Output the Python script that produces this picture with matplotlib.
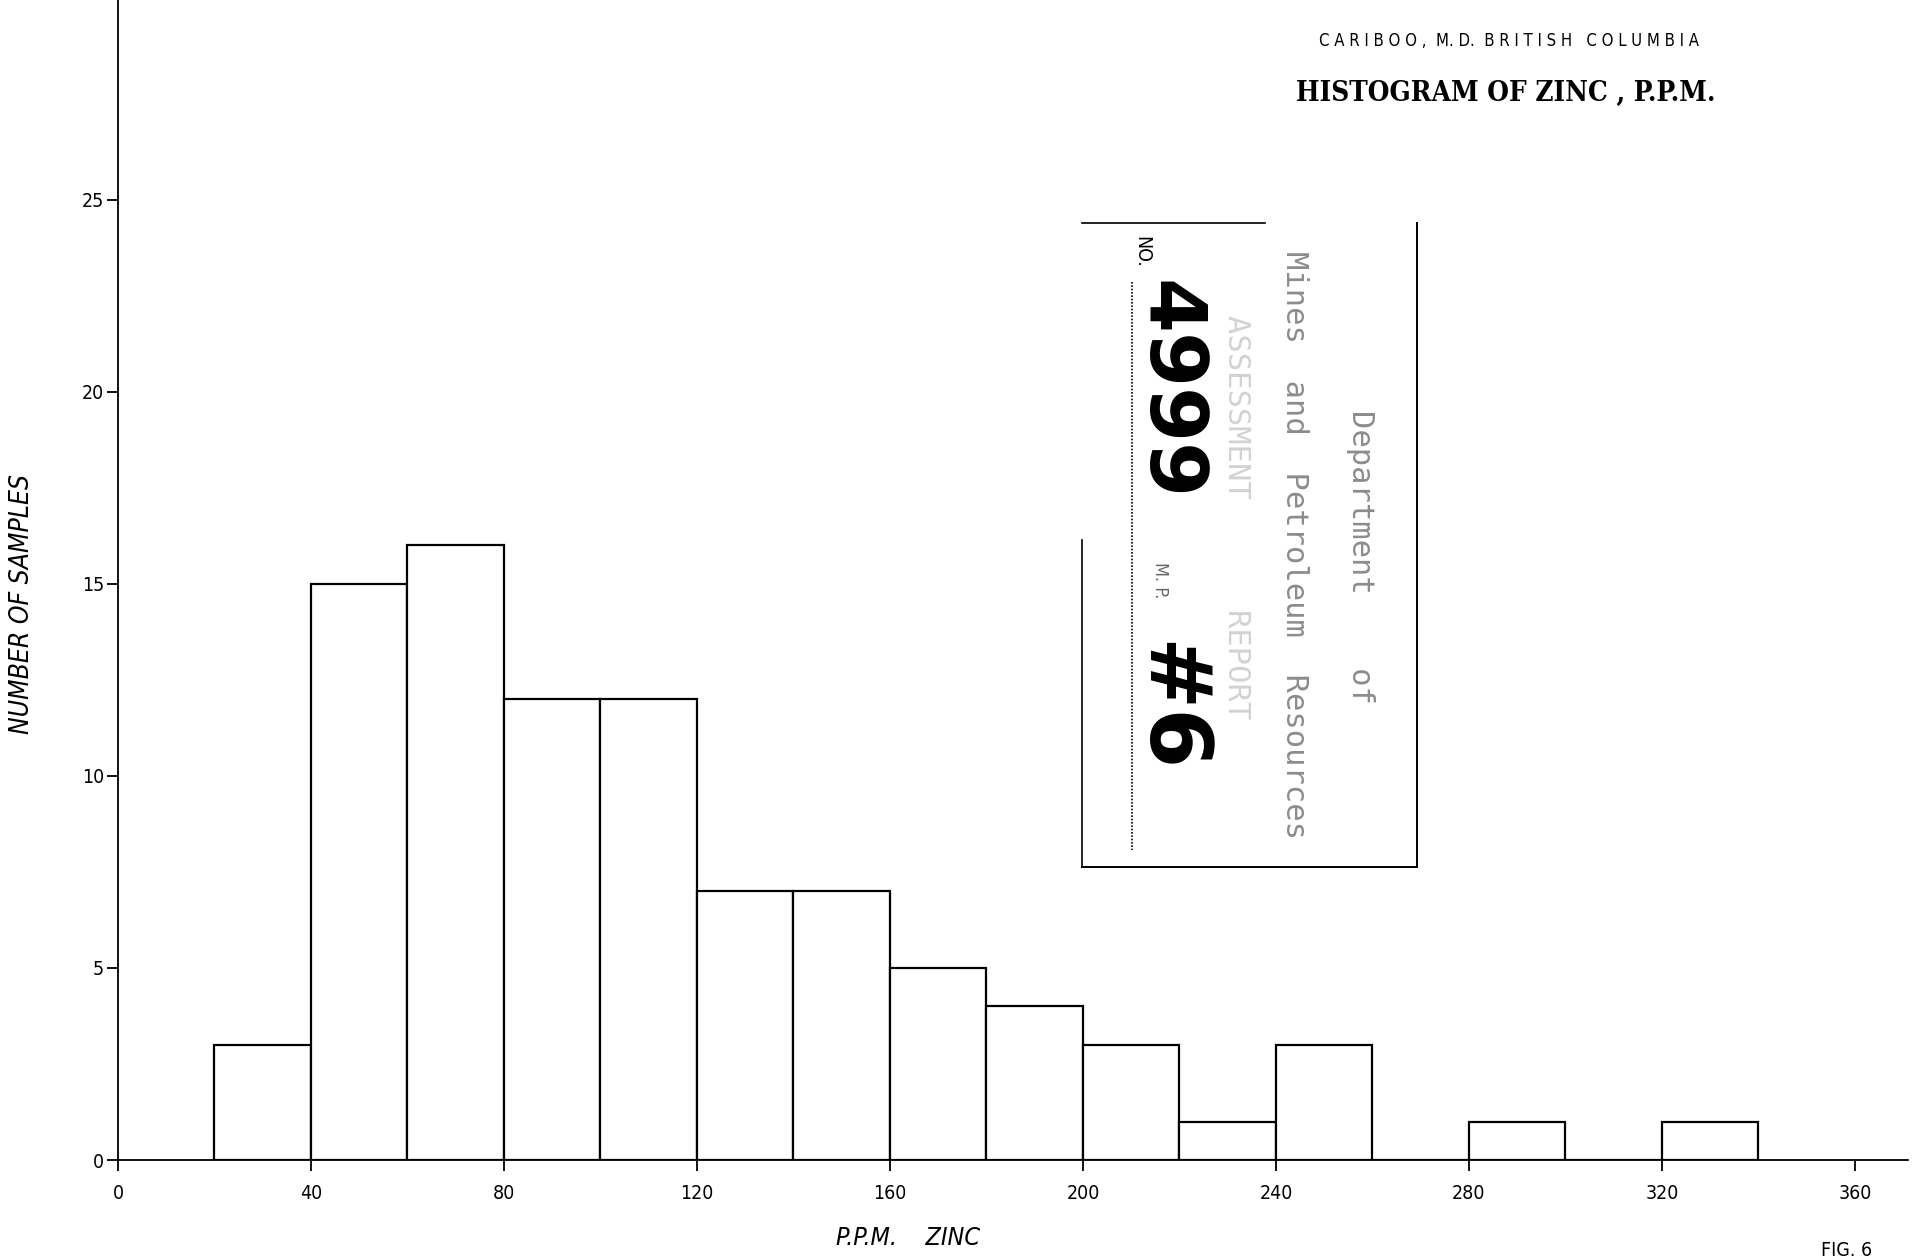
import matplotlib.pyplot as plt
import numpy as np
from matplotlib import rcParams

rcParams['font.family'] = ['DejaVu Sans']
rcParams['font.stretch'] = 'condensed'

# 锌含量直方图数据（P.P.M.，每组宽 20）
bin_edges = [20, 40, 60, 80, 100, 120, 140, 160, 180, 200, 220, 240, 260, 280, 300, 320, 340]
counts = [3, 15, 16, 12, 12, 7, 7, 5, 4, 3, 1, 3, 0, 1, 0, 1]

x_ticks = [0, 40, 80, 120, 160, 200, 240, 280, 320, 360]
y_ticks = [0, 5, 10, 15, 20, 25]

fig = plt.figure(figsize=(19.12, 12.57), dpi=100)
ax = fig.add_axes([118 / 1912, 97 / 1257, (1908 - 118) / 1912, 1160 / 1257])

lefts = np.array(bin_edges[:-1])
widths = np.diff(bin_edges)
ax.bar(lefts, counts, width=widths, align='edge', facecolor='white',
       edgecolor='black', linewidth=1.6)

ax.set_xlim(0, 371)
ax.set_ylim(0, 30.2)
ax.spines['top'].set_visible(False)
ax.spines['right'].set_visible(False)
ax.spines['left'].set_linewidth(1.3)
ax.spines['bottom'].set_linewidth(1.3)
ax.set_xticks(x_ticks)
ax.set_yticks(y_ticks)
ax.tick_params(axis='x', direction='out', length=8, width=1.3, labelsize=14, pad=9)
ax.tick_params(axis='y', direction='out', length=8, width=1.3, labelsize=14, pad=2)

# 坐标轴标题
fig.text(908 / 1912, 1 - 1238 / 1257, 'P.P.M.    ZINC', fontsize=18, style='italic',
         ha='center', va='center')
fig.text(22 / 1912, 1 - 604 / 1257, 'NUMBER OF SAMPLES', fontsize=19, style='italic',
         rotation=90, ha='center', va='center')

# 右上角标题
fig.text(1509 / 1912, 1 - 41 / 1257, 'C A R I B O O ,  M. D.  B R I T I S H   C O L U M B I A',
         fontsize=12, ha='center', va='center')
fig.text(1506 / 1912, 1 - 93 / 1257, 'HISTOGRAM OF ZINC , P.P.M.', fontsize=20,
         family='DejaVu Serif', fontweight='bold', ha='center', va='center')
fig.text(1847 / 1912, 1 - 1250 / 1257, 'FIG. 6', fontsize=14, ha='center', va='center')


# 档案印章
def fx(px):
    return px / 1912


def fy(py):
    return 1 - py / 1257


stamp_lines = [
    ([1082, 1265], [223, 223], 1.2),
    ([1417, 1417], [223, 867], 1.4),
    ([1082, 1417], [867, 867], 1.4),
    ([1082, 1082], [540, 867], 1.2),
]
for xs, ys, lw in stamp_lines:
    fig.add_artist(plt.Line2D([fx(v) for v in xs], [fy(v) for v in ys], color='black', lw=lw))
fig.add_artist(plt.Line2D([fx(1132), fx(1132)], [fy(282), fy(850)], color='black', lw=1.2,
                          linestyle=(0, (1, 1))))

fig.text(fx(1142), fy(252), 'NO.', fontsize=14, rotation=-90, ha='center', va='center')
fig.text(fx(1168), fy(390), '4999', fontsize=57, fontweight='bold', rotation=-90,
         ha='center', va='center', stretch='normal')
fig.text(fx(1160), fy(580), 'M. P.', fontsize=13, rotation=-90, ha='center', va='center',
         color='#666666')
fig.text(fx(1168), fy(707), '#6', fontsize=62, fontweight='bold', rotation=-90,
         ha='center', va='center', stretch='normal')
fig.text(fx(1360), fy(557), 'Department    of', fontsize=22, rotation=-90, ha='center',
         va='center', color='#8c8c8c', family='DejaVu Sans Mono')
fig.text(fx(1295), fy(545), 'Mines  and  Petroleum  Resources', fontsize=22, rotation=-90,
         ha='center', va='center', color='#8c8c8c', family='DejaVu Sans Mono')
fig.text(fx(1237), fy(517), 'ASSESSMENT      REPORT', fontsize=22, rotation=-90, ha='center',
         va='center', color='#d2d2d2', family='DejaVu Sans Mono')

fig.savefig('out.png', dpi=100, facecolor='white')
